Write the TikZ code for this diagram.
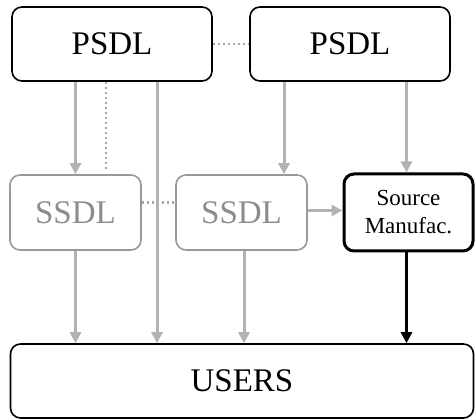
\documentclass[tikz,border=0pt]{standalone}
\usepackage{fontspec}
\setmainfont{Liberation Serif}
\usetikzlibrary{arrows.meta}

\begin{document}
\begin{tikzpicture}[x=1pt, y=1pt,
  box/.style={draw, rounded corners=10pt, line width=1.6pt, inner sep=0pt,
    font=\fontsize{33}{36}\selectfont},
  pbox/.style={box, minimum width=200pt, minimum height=74pt},
  sbox/.style={box, draw=gray!80, text=gray!90, minimum width=131pt, minimum height=75pt},
  mbox/.style={box, line width=3pt, minimum width=129pt, minimum height=77pt,
    align=center, font=\fontsize{23}{28}\selectfont},
  arr/.style={draw=gray!60, line width=3pt, -{Triangle[length=11pt, width=11pt]}},
  barr/.style={draw=black, line width=3pt, -{Triangle[length=11pt, width=11pt]}},
  dots/.style={draw=gray!70, line width=2.2pt, dash pattern=on 2pt off 3pt}]
  \useasboundingbox (0,0) rectangle (475,-419);
  % boxes
  \node[pbox] (p1) at (112,-44) {PSDL};
  \node[pbox] (p2) at (350,-44) {PSDL};
  \node[sbox] (s1) at (75.5,-212.5) {SSDL};
  \node[sbox] (s2) at (241.5,-212.5) {SSDL};
  \node[mbox] (src) at (408.5,-212.5) {Source\\Manufac.};
  \node[box, minimum width=463pt, minimum height=74pt] (users) at (242,-381) {USERS};
  % links
  \draw[dots] (p1.east) -- (p2.west);
  \draw[dots] ([yshift=10pt]s1.east) -- ([yshift=10pt]s2.west);
  \draw[dots] ([xshift=-6pt]p1.south) -- ([xshift=-6pt,yshift=3pt]p1.south |- s1.north);
  \draw[arr] (p1.south -| s1.north) -- (s1.north);
  \draw[arr] ([xshift=45pt]p1.south) -- ([xshift=45pt]p1.south |- users.north);
  \draw[arr] ([xshift=42.5pt]s2.north |- p2.south) -- ([xshift=42.5pt]s2.north);
  \draw[arr] ([xshift=-2pt]src.north |- p2.south) -- ([xshift=-2pt]src.north);
  \draw[arr] ([yshift=2pt]s2.east) -- ([yshift=2pt]src.west);
  \draw[arr] (s1.south) -- (s1.south |- users.north);
  \draw[arr] ([xshift=2.5pt]s2.south) -- ([xshift=2.5pt]s2.south |- users.north);
  \draw[barr] ([xshift=-2pt]src.south) -- ([xshift=-2pt]src.south |- users.north);
\end{tikzpicture}
\end{document}
